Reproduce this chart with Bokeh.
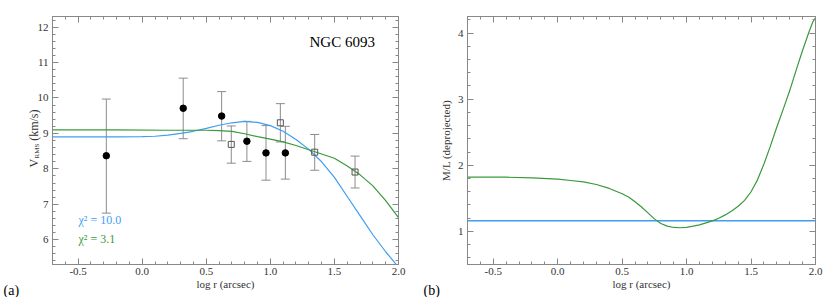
import math
from bokeh.plotting import figure
from bokeh.models import (ColumnDataSource, Whisker, TeeHead, LinearAxis, SingleIntervalTicker,
                          PrintfTickFormatter, CustomJSTickFormatter, Label, Range1d)
from bokeh.layouts import row
from bokeh.embed import file_html
from bokeh.resources import INLINE

# ---------------- data ----------------
# Panel (a): filled circles
circ_x = [-0.28, 0.32, 0.62, 0.817, 0.966, 1.117]
circ_y = [8.37, 9.71, 9.49, 8.78, 8.45, 8.45]
circ_hi = [9.97, 10.56, 10.18, 9.34, 9.22, 9.20]
circ_lo = [6.75, 8.85, 8.79, 8.21, 7.68, 7.71]
# Panel (a): open squares
sq_x = [0.695, 1.078, 1.346, 1.661]
sq_y = [8.69, 9.30, 8.47, 7.91]
sq_hi = [9.21, 9.84, 8.97, 8.36]
sq_lo = [8.16, 8.76, 7.96, 7.46]

# Panel (a): model curves
vb_x = [-0.7, -0.4, -0.2, 0.0, 0.1, 0.2, 0.3, 0.4, 0.5, 0.6, 0.7, 0.8, 0.9, 1.0, 1.1, 1.2, 1.3, 1.4,
        1.5, 1.6, 1.7, 1.8, 1.9, 1.98]
vb_y = [8.90, 8.90, 8.90, 8.91, 8.92, 8.95, 9.00, 9.06, 9.14, 9.23, 9.30, 9.34, 9.31, 9.22, 9.06, 8.83,
        8.55, 8.20, 7.76, 7.22, 6.68, 6.14, 5.66, 5.31]
vg_x = [-0.7, -0.2, 0.2, 0.5, 0.6, 0.7, 0.8, 0.9, 1.0, 1.1, 1.2, 1.3, 1.4, 1.5, 1.6, 1.7, 1.8, 1.9, 2.0]
vg_y = [9.10, 9.10, 9.09, 9.09, 9.08, 9.06, 8.99, 8.91, 8.84, 8.76, 8.66, 8.54, 8.42, 8.30, 8.08,
        7.83, 7.52, 7.10, 6.62]

# Panel (b): M/L profiles
ml_g_x = [-0.7, -0.4, -0.2, 0.0, 0.1, 0.2, 0.3, 0.4, 0.5, 0.55, 0.6, 0.65, 0.7, 0.75, 0.8, 0.85, 0.9,
          0.95, 1.0, 1.05, 1.1, 1.15, 1.2, 1.25, 1.3, 1.35, 1.4, 1.45, 1.5, 1.55, 1.6, 1.65, 1.7, 1.75,
          1.8, 1.85, 1.9, 1.95, 1.98, 2.0]
ml_g_y = [1.82, 1.82, 1.81, 1.79, 1.77, 1.75, 1.71, 1.65, 1.57, 1.52, 1.45, 1.37, 1.28, 1.19, 1.12,
          1.08, 1.06, 1.056, 1.062, 1.08, 1.10, 1.13, 1.16, 1.20, 1.25, 1.31, 1.38, 1.47, 1.60, 1.78,
          2.02, 2.29, 2.58, 2.85, 3.13, 3.44, 3.74, 4.02, 4.17, 4.23]
ml_b_x = [-0.7, 2.0]
ml_b_y = [1.16, 1.16]

chi_labels = ["\u03c7\u00b2 = 10.0", "\u03c7\u00b2 = 3.1"]
object_name = "NGC 6093"

BLUE = "#3e9ef2"
GREEN = "#3a993a"
GREY = "#888888"
EBAR = "#8c8c8c"
FONT = "Liberation Serif"
TXT = "#333333"

XR = (-0.7, 2.0)


def blank_formatter():
    return CustomJSTickFormatter(code="return ''")


def style(p, ylo, yhi):
    p.x_range = Range1d(*XR)
    p.y_range = Range1d(ylo, yhi)
    p.xgrid.visible = False
    p.ygrid.visible = False
    p.outline_line_color = GREY
    p.background_fill_color = "white"
    p.border_fill_color = "white"
    bottom = p.below[0]
    left = p.left[0]
    bottom.ticker = SingleIntervalTicker(interval=0.5, num_minor_ticks=5)
    left.ticker = SingleIntervalTicker(interval=1, num_minor_ticks=5)
    bottom.formatter = PrintfTickFormatter(format="%.1f")
    left.formatter = PrintfTickFormatter(format="%d")
    top = LinearAxis(ticker=SingleIntervalTicker(interval=0.5, num_minor_ticks=5), formatter=blank_formatter())
    right = LinearAxis(ticker=SingleIntervalTicker(interval=1, num_minor_ticks=5), formatter=blank_formatter())
    p.add_layout(top, "above")
    p.add_layout(right, "right")
    for ax in [bottom, left, top, right]:
        ax.axis_line_color = GREY
        ax.major_tick_line_color = GREY
        ax.minor_tick_line_color = GREY
        ax.major_tick_in = 6
        ax.major_tick_out = 0
        ax.minor_tick_in = 3
        ax.minor_tick_out = 0
        ax.major_label_text_font = FONT
        ax.major_label_text_font_size = "11px"
        ax.major_label_text_color = TXT
        ax.axis_label_text_font = FONT
        ax.axis_label_text_font_size = "11px"
        ax.axis_label_text_font_style = "normal"
        ax.axis_label_text_color = TXT
    for ax in (top, right):
        ax.major_label_standoff = 0
        ax.major_label_text_font_size = "0px"
    bottom.major_label_standoff = 3
    bottom.axis_label = "log r (arcsec)"
    bottom.axis_label_standoff = 0
    left.major_label_standoff = 4
    return bottom, left


# ---------------- panel (a) ----------------
p1 = figure(frame_width=346, frame_height=248, min_border_left=52, min_border_right=17,
            min_border_top=16, min_border_bottom=33, output_backend="svg", toolbar_location=None)
b1, l1 = style(p1, 5.3, 12.3)

src_c = ColumnDataSource(dict(x=circ_x, y=circ_y, hi=circ_hi, lo=circ_lo))
src_s = ColumnDataSource(dict(x=sq_x, y=sq_y, hi=sq_hi, lo=sq_lo))
for src in (src_c, src_s):
    w = Whisker(base="x", upper="hi", lower="lo", source=src, dimension="height",
                line_color=EBAR, line_width=1,
                upper_head=TeeHead(size=9, line_color=EBAR, line_width=1),
                lower_head=TeeHead(size=9, line_color=EBAR, line_width=1))
    p1.add_layout(w)

p1.line(vb_x, vb_y, line_color=BLUE, line_width=1.2)
p1.line(vg_x, vg_y, line_color=GREEN, line_width=1.2)
p1.scatter("x", "y", source=src_c, marker="circle", size=6.5, fill_color="black", line_color="black")
p1.scatter("x", "y", source=src_s, marker="square", size=6, fill_color=None, line_color="#555555",
           line_width=1)

px1 = 346 / (XR[1] - XR[0])
py1 = 248 / (12.3 - 5.3)


def lx1(page_x):
    return XR[0] + (page_x - 52) / px1


def ly1(page_y):
    return 5.3 + (264 - page_y) / py1


p1.add_layout(Label(x=lx1(309), y=ly1(41), text=object_name, text_font=FONT, text_font_size="15px",
                    text_color="black", text_align="left", text_baseline="middle"))
p1.add_layout(Label(x=lx1(78), y=ly1(219), text=chi_labels[0], text_font=FONT, text_font_size="12px",
                    text_color=BLUE, text_align="left", text_baseline="middle"))
p1.add_layout(Label(x=lx1(78), y=ly1(238), text=chi_labels[1], text_font=FONT, text_font_size="12px",
                    text_color=GREEN, text_align="left", text_baseline="middle"))
# y-axis label with subscript; placed in side panels so it is not clipped to the frame
ang = math.pi / 2
NB = "\u00a0"
p1.add_layout(Label(x=lx1(33), y=ly1(167), text="V" + NB * 6 + "(km/s)", angle=ang,
                    text_font=FONT, text_font_size="12px", text_color=TXT, text_align="left",
                    text_baseline="alphabetic"), "left")
p1.add_layout(Label(x=lx1(36), y=ly1(158), text="RMS", angle=ang,
                    text_font=FONT, text_font_size="7px", text_color=TXT, text_align="left",
                    text_baseline="alphabetic"), "left")
p1.add_layout(Label(x=lx1(3), y=ly1(290), text="(a)", text_font=FONT, text_font_size="14px",
                    text_color="black", text_align="left", text_baseline="middle"), "right")

# ---------------- panel (b) ----------------
p2 = figure(frame_width=348, frame_height=248, min_border_left=52, min_border_right=15,
            min_border_top=16, min_border_bottom=33, output_backend="svg", toolbar_location=None)
b2, l2 = style(p2, 0.5, 4.25)
l2.axis_label = "M/L (deprojected)"
l2.axis_label_standoff = 3

p2.line(ml_b_x, ml_b_y, line_color=BLUE, line_width=1.5)
p2.line(ml_g_x, ml_g_y, line_color=GREEN, line_width=1.2)

px2 = 348 / (XR[1] - XR[0])
py2 = 248 / (4.25 - 0.5)
p2.add_layout(Label(x=XR[0] - (467 - 423) / px2, y=0.5 - (290 - 264) / py2, text="(b)",
                    text_font=FONT, text_font_size="14px", text_color="black", text_align="left",
                    text_baseline="middle"), "left")

layout = row(p1, p2, spacing=0)
open("out.html", "w").write(file_html(layout, INLINE))
